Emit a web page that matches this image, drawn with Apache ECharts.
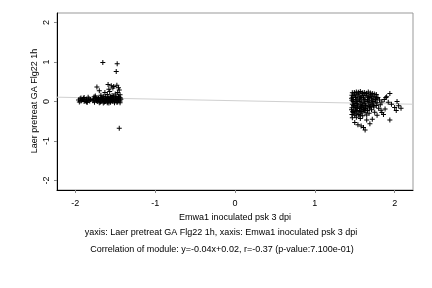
<!DOCTYPE html>
<html><head><meta charset="utf-8">
<script src="https://cdn.jsdelivr.net/npm/echarts@6/dist/echarts.min.js"></script>
<style>html,body{margin:0;padding:0;background:#fff}#c{width:432px;height:288px}</style>
</head><body><div id="c"></div>
<script>
var xName = "Emwa1 inoculated psk 3 dpi";
var yName = "Laer pretreat GA Flg22 1h";
var captionLines = ["yaxis: Laer pretreat GA Flg22 1h, xaxis: Emwa1 inoculated psk 3 dpi",
  "Correlation of module: y=-0.04x+0.02, r=-0.37 (p-value:7.100e-01)"];
var tickValues = [-2, -1, 0, 1, 2];
var fitSlope = -0.04, fitIntercept = 0.02;
var axisMin = -2.23, axisMax = 2.23, yMin = -2.24, yMax = 2.24;

var leftPoints = [
 [-1.656,0.99],[-1.476,0.955],[-1.488,0.76],[-1.45,-0.68],
 [-1.73,0.37],[-1.59,0.43],[-1.55,0.4],[-1.48,0.41],[-1.45,0.29],[-1.53,0.34],[-1.57,0.25],
 [-1.63,0.23],[-1.7,0.27],[-1.47,0.23],[-1.52,0.38],[-1.46,0.35],[-1.6,0.18],[-1.68,0.16],
 [-1.5,0.19],[-1.44,0.17],[-1.54,0.15],[-1.65,0.13],[-1.75,0.14],[-1.58,0.31],
 [-1.96,0.04],[-1.94,0.07],[-1.93,0.01],[-1.91,0.05],[-1.9,0.08],[-1.89,0.0],[-1.88,0.04],
 [-1.86,0.06],[-1.85,-0.02],[-1.84,0.03],[-1.83,0.07],[-1.82,0.01],[-1.95,-0.01],[-1.92,0.03],
 [-1.87,0.01],[-1.81,0.05],[-1.89,0.1],[-1.84,0.11],[-1.93,0.09],[-1.86,-0.01],
 [-1.78,0.02],[-1.77,0.07],[-1.76,-0.02],[-1.75,0.1],[-1.74,0.04],[-1.72,0.0],[-1.71,0.08],
 [-1.7,-0.03],[-1.69,0.05],[-1.68,0.11],[-1.67,0.01],[-1.66,0.07],[-1.65,-0.04],[-1.64,0.03],
 [-1.63,0.09],[-1.62,0.0],[-1.61,0.06],[-1.6,-0.03],[-1.59,0.1],[-1.58,0.03],[-1.57,0.07],
 [-1.56,-0.02],[-1.55,0.05],[-1.54,0.1],[-1.53,0.0],[-1.52,0.06],[-1.51,-0.03],[-1.5,0.09],
 [-1.49,0.03],[-1.48,0.07],[-1.47,-0.01],[-1.46,0.05],[-1.45,0.11],[-1.44,0.01],[-1.43,0.06],
 [-1.44,-0.03],[-1.46,0.13],[-1.49,0.12],[-1.52,0.13],[-1.56,0.12],[-1.62,0.12],[-1.73,0.09],
 [-1.69,0.01],[-1.58,-0.04],[-1.48,-0.02],[-1.53,0.03],[-1.6,0.04],[-1.66,0.04],[-1.72,0.05],
 [-1.775,0.04],[-1.735,0.02],[-1.705,0.06],[-1.675,0.09],[-1.645,0.06],[-1.615,0.03],[-1.585,0.07],
 [-1.555,0.09],[-1.525,0.09],[-1.495,0.06],[-1.465,0.08],[-1.435,0.09],[-1.455,0.02],[-1.505,0.01],
 [-1.545,0.02],[-1.595,0.0],[-1.635,-0.01],[-1.685,-0.01],[-1.745,0.07],[-1.765,0.12]
];
var rightPoints = [
 [1.47,0.22],[1.52,0.24],[1.57,0.25],[1.62,0.23],[1.67,0.24],[1.72,0.2],[1.77,0.18],
 [1.49,0.15],[1.54,0.17],[1.59,0.14],[1.64,0.16],[1.69,0.13],[1.74,0.12],[1.79,0.1],
 [1.46,0.08],[1.51,0.1],[1.56,0.07],[1.61,0.09],[1.66,0.06],[1.71,0.08],[1.76,0.05],[1.81,0.04],
 [1.48,0.0],[1.53,0.02],[1.58,-0.01],[1.63,0.01],[1.68,-0.02],[1.73,0.0],[1.78,-0.03],[1.84,-0.01],
 [1.47,-0.07],[1.52,-0.05],[1.57,-0.08],[1.62,-0.06],[1.67,-0.09],[1.72,-0.07],[1.77,-0.1],[1.82,-0.08],
 [1.49,-0.14],[1.54,-0.12],[1.59,-0.15],[1.64,-0.13],[1.69,-0.16],[1.74,-0.14],[1.8,-0.17],
 [1.46,-0.21],[1.51,-0.19],[1.56,-0.22],[1.61,-0.2],[1.66,-0.23],[1.71,-0.21],
 [1.48,-0.28],[1.53,-0.26],[1.58,-0.29],[1.63,-0.27],[1.68,-0.3],
 [1.5,-0.35],[1.55,-0.33],[1.6,-0.36],[1.65,-0.34],[1.47,-0.41],[1.52,-0.4],[1.57,-0.43],
 [1.5,0.19],[1.55,0.21],[1.6,0.2],[1.65,0.2],[1.7,0.17],[1.48,0.05],[1.58,0.04],[1.68,0.03],
 [1.5,-0.1],[1.6,-0.1],[1.7,-0.12],[1.53,-0.16],[1.63,-0.18],[1.49,-0.24],[1.59,-0.25],
 [1.495,0.225],[1.545,0.235],[1.595,0.22],[1.645,0.21],[1.695,0.215],[1.745,0.19],
 [1.465,0.16],[1.515,0.14],[1.565,0.13],[1.615,0.15],[1.665,0.12],[1.715,0.13],[1.765,0.11],
 [1.475,0.11],[1.525,0.06],[1.575,0.1],[1.625,0.05],[1.675,0.1],[1.725,0.04],[1.775,0.08],
 [1.465,0.03],[1.505,-0.02],[1.555,0.0],[1.605,-0.03],[1.655,0.0],[1.705,-0.04],[1.755,-0.01],
 [1.485,-0.1],[1.535,-0.09],[1.585,-0.12],[1.635,-0.1],[1.685,-0.13],[1.735,-0.11],
 [1.465,-0.16],[1.515,-0.15],[1.565,-0.18],[1.615,-0.16],[1.655,-0.19],
 [1.475,-0.25],[1.525,-0.23],[1.575,-0.25],[1.625,-0.23],[1.465,-0.33],[1.515,-0.31],[1.565,-0.36],
 [1.94,0.2],[1.9,0.12],[2.03,0.0],[1.96,-0.07],[2.05,-0.11],[2.0,-0.15],[1.94,-0.47],
 [1.5,-0.53],[1.54,-0.59],[1.61,-0.66],[1.63,-0.72],[1.69,-0.56],[1.65,-0.47],[1.84,-0.28],
 [1.88,-0.19],[2.08,-0.17],[2.02,-0.23],[1.89,0.1],[1.58,-0.62],[1.72,-0.45],[1.86,-0.33],
 [1.78,-0.35],[1.83,-0.22],[1.75,-0.27],[1.87,0.05],[1.92,-0.02]
];

var plus = 'path://M2,0h1v2h2v1h-2v2h-1v-2h-2v-1h2z';
var font = 'Liberation Sans';
var fs = 9;
var chart = echarts.init(document.getElementById('c'), null, {renderer: 'canvas'});
var fitLine = [[axisMin, fitSlope*axisMin + fitIntercept],[axisMax, fitSlope*axisMax + fitIntercept]];
chart.setOption({
  animation: false,
  backgroundColor: '#fff',
  grid: {left: 57, top: 13, right: 19, bottom: 98, show: true, borderColor: '#999', borderWidth: 1},
  xAxis: {type: 'value', min: axisMin, max: axisMax,
    name: xName, nameLocation: 'middle', nameGap: 21,
    nameTextStyle: {fontFamily: font, fontSize: fs, color: '#000'},
    axisLine: {show: true, onZero: false, lineStyle: {color: '#000', width: 1}},
    axisTick: {show: true, length: 3, customValues: tickValues, lineStyle: {color: '#888'}},
    axisLabel: {customValues: tickValues, fontFamily: font, fontSize: fs, color: '#000', margin: 9},
    splitLine: {show: false}},
  yAxis: {type: 'value', min: yMin, max: yMax,
    axisLine: {show: true, onZero: false, lineStyle: {color: '#000', width: 1}},
    axisTick: {show: true, length: 3, customValues: tickValues, lineStyle: {color: '#888'}},
    axisLabel: {customValues: tickValues, rotate: 90, fontFamily: font, fontSize: fs, color: '#000', margin: 6},
    splitLine: {show: false}},
  graphic: [
    {type: 'text', x: 35, y: 101, rotation: Math.PI / 2, style: {text: yName, font: fs + 'px "Liberation Sans"', fill: '#000', align: 'center', verticalAlign: 'middle'}},
    {type: 'text', x: 221, y: 233, style: {text: captionLines[0], font: fs + 'px "Liberation Sans"', fill: '#000', align: 'center', verticalAlign: 'middle'}},
    {type: 'text', x: 222, y: 250, style: {text: captionLines[1], font: fs + 'px "Liberation Sans"', fill: '#000', align: 'center', verticalAlign: 'middle'}}
  ],
  series: [
    {type: 'line', data: fitLine, symbol: 'none', lineStyle: {color: '#d0d0d0', width: 1}, z: 1, silent: true},
    {type: 'scatter', data: leftPoints, symbol: plus, symbolSize: 5, itemStyle: {color: '#000', opacity: 1}, z: 2},
    {type: 'scatter', data: rightPoints, symbol: plus, symbolSize: 5, itemStyle: {color: '#000', opacity: 1}, z: 2}
  ]
});
</script></body></html>
